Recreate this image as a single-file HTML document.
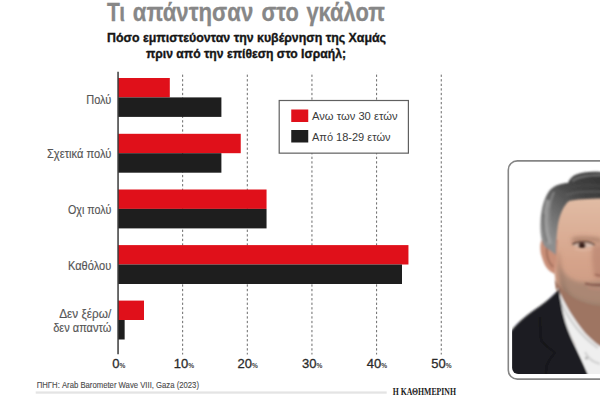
<!DOCTYPE html>
<html><head><meta charset="utf-8">
<style>
html,body{margin:0;padding:0;background:#fff;width:600px;height:400px;overflow:hidden}
svg{display:block;font-family:"Liberation Sans",sans-serif}
</style></head>
<body>
<svg width="600" height="400" viewBox="0 0 600 400">
<rect width="600" height="400" fill="#fff"/>
<!-- title -->
<g font-size="26" font-weight="bold" fill="#878787" stroke="#878787" stroke-width="0.3">
<text x="106.9" y="20.9" textLength="18.3" lengthAdjust="spacingAndGlyphs">Τι</text>
<text x="132.8" y="20.9" textLength="120.4" lengthAdjust="spacingAndGlyphs">απάντησαν</text>
<text x="261.4" y="20.9" textLength="37.3" lengthAdjust="spacingAndGlyphs">στο</text>
<text x="306.4" y="20.9" textLength="78.5" lengthAdjust="spacingAndGlyphs">γκάλοπ</text>
</g>
<g font-size="13" font-weight="bold" fill="#151515" stroke="#151515" stroke-width="0.35">
<text x="107" y="42.4" textLength="279" lengthAdjust="spacingAndGlyphs">Πόσο εμπιστεύονταν την κυβέρνηση της Χαμάς</text>
<text x="146" y="58.2" textLength="200" lengthAdjust="spacingAndGlyphs">πριν από την επίθεση στο Ισραήλ;</text>
</g>

<!-- gridlines -->
<g stroke="#6a6a6a" stroke-width="1" stroke-dasharray="2.3 2.26" stroke-dashoffset="2.25">
<line x1="182.65" y1="72.3" x2="182.65" y2="354.5"/>
<line x1="247.30" y1="72.3" x2="247.30" y2="354.5"/>
<line x1="311.95" y1="72.3" x2="311.95" y2="354.5"/>
<line x1="376.60" y1="72.3" x2="376.60" y2="354.5"/>
<line x1="441.25" y1="72.3" x2="441.25" y2="354.5"/>
</g>

<!-- bars -->
<g>
<rect x="118" y="78.00" width="51.80" height="19.4" fill="#e0101a"/>
<rect x="118" y="97.40" width="103.40" height="19.5" fill="#1e1e1e"/>
<rect x="118" y="133.80" width="122.75" height="19.4" fill="#e0101a"/>
<rect x="118" y="153.20" width="103.40" height="19.5" fill="#1e1e1e"/>
<rect x="118" y="189.50" width="148.55" height="19.4" fill="#e0101a"/>
<rect x="118" y="208.90" width="148.55" height="19.5" fill="#1e1e1e"/>
<rect x="118" y="245.10" width="290.45" height="19.4" fill="#e0101a"/>
<rect x="118" y="264.50" width="284.00" height="19.5" fill="#1e1e1e"/>
<rect x="118" y="300.60" width="26.00" height="19.4" fill="#e0101a"/>
<rect x="118" y="320.00" width="6.65" height="19.5" fill="#1e1e1e"/>
</g>
<!-- axis -->
<rect x="117.3" y="71.75" width="1.5" height="282.5" fill="#3c3c3c"/>

<!-- legend -->
<rect x="279.2" y="100.5" width="129.2" height="52.65" fill="#fff" stroke="#606060" stroke-width="1.2"/>
<rect x="291.25" y="109.5" width="17" height="12.5" fill="#e0101a"/>
<rect x="291.25" y="130" width="17" height="12.5" fill="#1e1e1e"/>
<g font-size="11.8" fill="#3a3a3a">
<text x="312" y="120" textLength="85.5" lengthAdjust="spacingAndGlyphs">Ανω των 30 ετών</text>
<text x="312" y="140.75" textLength="78.5" lengthAdjust="spacingAndGlyphs">Από 18-29 ετών</text>
</g>

<!-- category labels -->
<g font-size="12.2" fill="#555" stroke="#555" stroke-width="0.15" text-anchor="end">
<text x="111.25" y="103.9" textLength="25" lengthAdjust="spacingAndGlyphs">Πολύ</text>
<text x="111.25" y="158.4" textLength="64.25" lengthAdjust="spacingAndGlyphs">Σχετικά πολύ</text>
<text x="111.25" y="214.4" textLength="43.25" lengthAdjust="spacingAndGlyphs">Οχι πολύ</text>
<text x="111.25" y="269.5" textLength="43.25" lengthAdjust="spacingAndGlyphs">Καθόλου</text>
<text x="111.25" y="318" textLength="52" lengthAdjust="spacingAndGlyphs">Δεν ξέρω/</text>
<text x="111.25" y="332" textLength="58" lengthAdjust="spacingAndGlyphs">δεν απαντώ</text>
</g>

<!-- axis labels -->
<g font-size="13" fill="#2a2a2a" stroke="#2a2a2a" stroke-width="0.3">
<text x="112.3" y="368.3">0<tspan font-size="6.6" font-weight="bold" fill="#3a3a3a" stroke="none">%</tspan></text>
<text x="173.7" y="368.3">10<tspan font-size="6.6" font-weight="bold" fill="#3a3a3a" stroke="none">%</tspan></text>
<text x="237.5" y="368.3">20<tspan font-size="6.6" font-weight="bold" fill="#3a3a3a" stroke="none">%</tspan></text>
<text x="302" y="368.3">30<tspan font-size="6.6" font-weight="bold" fill="#3a3a3a" stroke="none">%</tspan></text>
<text x="366.7" y="368.3">40<tspan font-size="6.6" font-weight="bold" fill="#3a3a3a" stroke="none">%</tspan></text>
<text x="431.3" y="368.3">50<tspan font-size="6.6" font-weight="bold" fill="#3a3a3a" stroke="none">%</tspan></text>
</g>

<!-- footer -->
<text x="36.7" y="388" font-size="9.6" fill="#4a4a4a" stroke="#4a4a4a" stroke-width="0.12" textLength="162.3" lengthAdjust="spacingAndGlyphs">ΠΗΓΗ: Arab Barometer Wave VIII, Gaza (2023)</text>
<rect x="35.7" y="391.4" width="351" height="2.3" fill="#e4e4e4"/>
<text x="392.8" y="394.8" font-size="10" font-weight="bold" fill="#222" font-family="Liberation Serif" textLength="63.2" lengthAdjust="spacingAndGlyphs">Η ΚΑΘΗΜΕΡΙΝΗ</text>

<!-- photo frame -->
<defs>
<clipPath id="pc"><rect x="512.1" y="164.5" width="100" height="209.6" rx="6"/></clipPath>
<filter id="bl" x="-20%" y="-20%" width="140%" height="140%"><feGaussianBlur stdDeviation="0.8"/></filter>
<filter id="bl2" x="-50%" y="-50%" width="200%" height="200%"><feGaussianBlur stdDeviation="2"/></filter>
<linearGradient id="hairg" gradientUnits="userSpaceOnUse" x1="545" y1="235" x2="595" y2="178">
<stop offset="0" stop-color="#8e8e8e"/><stop offset="0.35" stop-color="#6a6a6a"/><stop offset="0.7" stop-color="#454545"/><stop offset="1" stop-color="#383838"/>
</linearGradient>
<linearGradient id="stub" x1="0" y1="0" x2="0" y2="1">
<stop offset="0" stop-color="#9a7a6a" stop-opacity="0"/><stop offset="0.4" stop-color="#8e7464" stop-opacity="0.6"/><stop offset="1" stop-color="#7a6050" stop-opacity="0.8"/>
</linearGradient>
<linearGradient id="skin" x1="0" y1="0" x2="0" y2="1">
<stop offset="0" stop-color="#e3bfa8"/><stop offset="0.45" stop-color="#d6a48b"/><stop offset="1" stop-color="#bb8d78"/>
</linearGradient>
</defs>
<rect x="508.3" y="160.9" width="120" height="218.25" rx="9" fill="#fff" stroke="#858585" stroke-width="1.6"/>
<g clip-path="url(#pc)">
<g filter="url(#bl)">
<!-- face -->
<path d="M565,190 L612,190 L612,345 L575,345 C566,318 560,305 557,290 C555,280 554,268 553,255 C551,238 550,215 565,190 Z" fill="url(#skin)"/>
</g>
<g filter="url(#bl2)">
<!-- soft shading -->
<path d="M559,250 C562,265 563,282 570,296 L562,298 C558,285 557,270 557,255 Z" fill="#a87a66" opacity="0.5"/>
<path d="M593,245 C591,256 592,266 595,278 L606,278 L606,245 Z" fill="#b07a66" opacity="0.55"/>
<path d="M560,278 C566,294 578,302 600,304 L612,304 L612,320 L565,320 Z" fill="#84705f" opacity="0.6"/>
<path d="M558,262 C564,278 576,284 590,282 L612,280 L612,306 C590,306 570,300 560,285 Z" fill="#8f7868" opacity="0.55"/>
<path d="M572,238 C580,236 592,236 602,239 L602,243 C590,241 580,241 572,243 Z" fill="#8a6050" opacity="0.55"/>
</g>
<g filter="url(#bl)">
<!-- ear -->
<path d="M545,236 C539,240 539.5,251 542.5,259 C545,267 549,272 555.5,274 L558,240 Z" fill="#c98f78"/>
<path d="M547,246 C546,254 548,262 553,267" stroke="#9a6654" stroke-width="2" fill="none" opacity="0.8"/>
<!-- hair -->
<path d="M612,172 L600,172 C592,171.5 582,172 575,175 C571,177 569,180 568,183 C562,183 555,185 550,190 C545,196 541,208 540.5,222 C540,232 541,240 544,246 L556,255 C556,245 556.5,236 557.5,228 C559,216 563,206 569,201 C577,199 590,198.5 612,198.5 Z" fill="url(#hairg)"/>
<path d="M548,200 C545,212 545,228 550,244" stroke="#a4a4a4" stroke-width="4" fill="none" opacity="0.75"/>
<path d="M554,192 C549,202 548,216 551,232" stroke="#8c8c8c" stroke-width="2" fill="none" opacity="0.8"/>
<path d="M544,214 C543,224 544,234 547,242" stroke="#6a6a6a" stroke-width="1.5" fill="none" opacity="0.7"/>
<path d="M572,181 C578,176 590,174.5 606,175" stroke="#7c7c7c" stroke-width="2.5" fill="none" opacity="0.7"/>
<path d="M560,189 C570,186 588,184 606,186" stroke="#4a4a4a" stroke-width="2" fill="none" opacity="0.7"/>
<path d="M566,195 C575,192 590,191 606,192" stroke="#6e6e6e" stroke-width="1.5" fill="none" opacity="0.6"/>
<!-- eye -->
<path d="M573,245.5 C578,242.5 588,242 594,245.5 C588,248.5 579,248.5 573,245.5 Z" fill="#d8bcae"/>
<ellipse cx="582" cy="245.4" rx="3.6" ry="2.6" fill="#3a231b"/>
<path d="M572.5,244.5 C578,241 588,240.5 594.5,245" stroke="#4e3228" stroke-width="1.6" fill="none"/>
<path d="M575,249 C580,250.5 587,250.5 592,249" stroke="#e8c8b8" stroke-width="1.2" fill="none" opacity="0.6"/>
<!-- nostril / mouth -->
<path d="M595,274 C597,276 600,276 604,275" stroke="#8e5a4c" stroke-width="1.6" fill="none" opacity="0.8"/>
<path d="M585,283.5 C590,285 596,285.5 604,285" stroke="#7e4e44" stroke-width="1.8" fill="none"/>
<path d="M588,287.5 C592,289 597,289.5 604,289" stroke="#c08878" stroke-width="2" fill="none" opacity="0.6"/>
<!-- neck -->
<path d="M555,280 C566,296 580,304 600,306 L612,306 L612,352 L600,347 C595,343 590,338 585,333 C580,327 575,320 570,312 C566,305 561,296 556,289 Z" fill="#9e7462"/>
<!-- shirt -->
<path d="M558,288 C561,296 566,305 570,312 C575,320 580,327 585,333 C590,338 595,343 600,346 L612,350 L612,380 L591,380 C585,364 577,349 570,335 C563,318 561,305 557,289 Z" fill="#efefef"/>
<path d="M560,300 C564,310 569,318 575,326 C581,334 588,341 598,348" stroke="#d2d2d2" stroke-width="2.5" fill="none"/>
<path d="M585,352 C588,358 592,362 600,364" stroke="#d0d0d0" stroke-width="2" fill="none"/>
<circle cx="586.5" cy="358" r="1.6" fill="#b0b0b0"/>
<!-- jacket -->
<path d="M508,333 L512,330 C518,322 528,314 540,306 C548,300 554,295 559,289 C561,305 563,318 570,335 C575,347 583,362 590,380 L508,380 Z" fill="#1b1b20"/>
<path d="M540,317 C540,328 540,336 541.5,341 C546,346 551,350 555,352.5 C551,357 548,362 546.5,366 C546,370 546,374 546,378" stroke="#0a0a0e" stroke-width="1.2" fill="none" opacity="0.7"/>
</g>
</g>
</svg>
</body></html>
